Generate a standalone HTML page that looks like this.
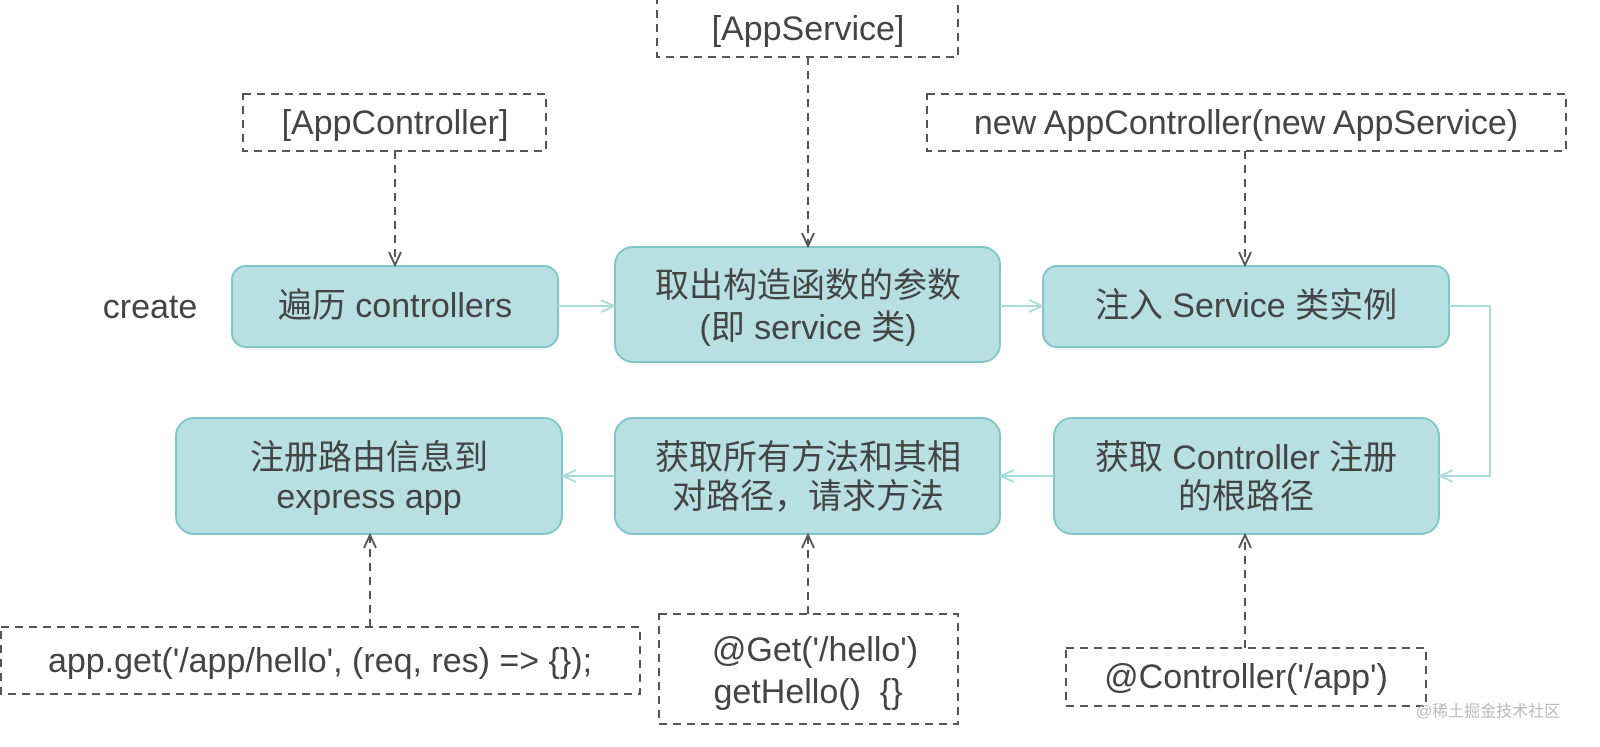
<!DOCTYPE html>
<html><head><meta charset="utf-8"><style>
html,body{margin:0;padding:0;background:#fff;}
svg text{font-family:"Liberation Sans","Noto Sans CJK SC",sans-serif;fill:#444;font-size:34px;text-anchor:middle;dominant-baseline:central;}
</style></head><body>
<svg width="1600" height="742" viewBox="0 0 1600 742" xmlns="http://www.w3.org/2000/svg">
<defs>
<marker id="a" markerWidth="20" markerHeight="20" refX="14" refY="7" orient="auto" markerUnits="userSpaceOnUse"><path d="M1,1 L14,7 L1,13" fill="none" stroke="#a9dcdc" stroke-width="2"/></marker>
<marker id="d" markerWidth="20" markerHeight="20" refX="14" refY="7" orient="auto" markerUnits="userSpaceOnUse"><path d="M1,1 L14,7 L1,13" fill="none" stroke="#555" stroke-width="2"/></marker>
</defs>
<g fill="#b8e0e2" stroke="#7ec6c8" stroke-width="2">
<rect x="232" y="266" width="326" height="81" rx="14"/>
<rect x="615" y="247" width="385" height="115" rx="18"/>
<rect x="1043" y="266" width="406" height="81" rx="14"/>
<rect x="1054" y="418" width="385" height="116" rx="18"/>
<rect x="615" y="418" width="385" height="116" rx="18"/>
<rect x="176" y="418" width="386" height="116" rx="18"/>
</g>
<g fill="none" stroke="#a9dcdc" stroke-width="2">
<path d="M558,306 L614,306" marker-end="url(#a)"/>
<path d="M1000,306 L1042,306" marker-end="url(#a)"/>
<path d="M1449,306 L1490,306 L1490,476 L1440,476" marker-end="url(#a)"/>
<path d="M1054,476 L1001,476" marker-end="url(#a)"/>
<path d="M615,476 L563,476" marker-end="url(#a)"/>
</g>
<g fill="none" stroke="#555" stroke-width="2" stroke-dasharray="8,6">
<rect x="243" y="94" width="303" height="57"/>
<rect x="657" y="-2" width="301" height="59"/>
<rect x="927" y="94" width="639" height="57"/>
<rect x="1" y="627" width="639" height="67"/>
<rect x="659" y="614" width="299" height="110"/>
<rect x="1066" y="648" width="360" height="58"/>
<path d="M395,151 L395,265" marker-end="url(#d)"/>
<path d="M808,57 L808,246" marker-end="url(#d)"/>
<path d="M1245,151 L1245,265" marker-end="url(#d)"/>
<path d="M370,627 L370,535" marker-end="url(#d)"/>
<path d="M808,614 L808,535" marker-end="url(#d)"/>
<path d="M1245,648 L1245,535" marker-end="url(#d)"/>
</g>
<text x="150" y="307">create</text>
<text x="395" y="306">遍历 controllers</text>
<text x="808" y="286">取出构造函数的参数</text>
<text x="808" y="328">(即 service 类)</text>
<text x="1246" y="306">注入 Service 类实例</text>
<text x="1246" y="458">获取 Controller 注册</text>
<text x="1246" y="497">的根路径</text>
<text x="808" y="458">获取所有方法和其相</text>
<text x="808" y="497">对路径，请求方法</text>
<text x="369" y="458">注册路由信息到</text>
<text x="369" y="497">express app</text>
<text x="395" y="123">[AppController]</text>
<text x="808" y="29">[AppService]</text>
<text x="1246" y="123">new AppController(new AppService)</text>
<text x="320" y="661">app.get('/app/hello', (req, res) =&gt; {});</text>
<text x="815" y="650">@Get('/hello')</text>
<text x="808" y="692">getHello()&#160; {}</text>
<text x="1246" y="677">@Controller('/app')</text>
<text x="1488" y="712" style="font-size:16px;fill:#bbb">@稀土掘金技术社区</text>
</svg>
</body></html>
